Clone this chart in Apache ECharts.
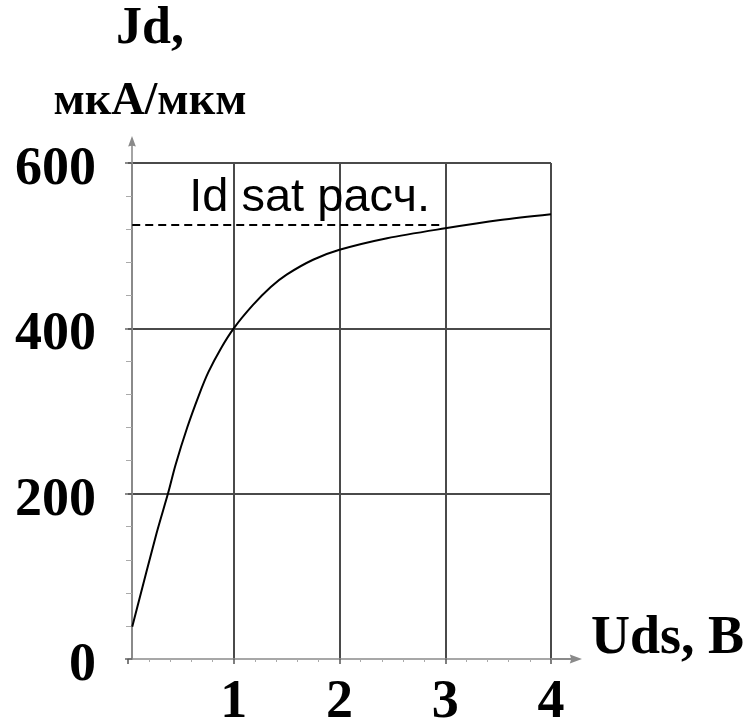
<!DOCTYPE html>
<html>
<head>
<meta charset="utf-8">
<script src="https://cdn.jsdelivr.net/npm/echarts@6/dist/echarts.min.js"></script>
<style>
  html, body { margin: 0; padding: 0; background: #fff; }
  #chart { width: 749px; height: 721px; }
</style>
</head>
<body>
<div id="chart"></div>
<script>
// Output characteristic: drain current density vs drain-source voltage
const uds = [0.04, 0.27, 0.38, 0.45, 0.56, 0.67, 0.76, 0.88, 1.0, 1.18, 1.35, 1.5, 1.75, 2.0, 2.45, 3.0, 3.52, 4.0];
const jd  = [39, 152, 201, 235, 280, 319, 347, 376, 400, 428, 450, 465, 483, 495, 509, 521, 531, 538];

// Calculated saturation level (dashed reference)
const jdSat = 525;
const satFrom = 0.04;
const satTo = 2.95;
const satLabel = 'Id sat расч.';

const xName = 'Uds, B';
const yNameTop = 'Jd,';
const yNameUnit = 'мкА/мкм';

const serif = '"Liberation Serif", "Times New Roman", serif';
const sans = '"Liberation Sans", Arial, sans-serif';

// Arrow with a short stem that continues the axis line past the grid
const arrowPath = 'path://M5,0 L9,11 L5.8,10 L5.8,28 L4.2,28 L4.2,10 L1,11 Z';

const chart = echarts.init(document.getElementById('chart'), null, { renderer: 'canvas' });

chart.setOption({
  animation: false,
  backgroundColor: '#ffffff',
  grid: {
    left: 128, right: 198, top: 163, bottom: 62,
    containLabel: false,
    outerBoundsMode: 'none'
  },
  xAxis: {
    type: 'value',
    min: 0,
    max: 4,
    interval: 1,
    name: xName,
    nameLocation: 'end',
    nameGap: 40,
    nameMoveOverlap: false,
    nameTextStyle: {
      fontFamily: serif, fontWeight: 'bold', fontSize: 54, color: '#000',
      align: 'left', verticalAlign: 'bottom', lineHeight: 40
    },
    axisLine: {
      show: true,
      lineStyle: { color: '#8a8a8a', width: 1.5 },
      symbol: ['none', arrowPath],
      symbolSize: [10, 31],
      symbolOffset: [0, 15.5]
    },
    axisTick: { show: true, length: 5, lineStyle: { color: '#555', width: 1.5 } },
    minorTick: { show: true, splitNumber: 5, length: 3, lineStyle: { color: '#aaa', width: 1 } },
    axisLabel: {
      fontFamily: serif, fontWeight: 'bold', fontSize: 54, color: '#000', margin: 17,
      formatter: v => (v === 0 ? '' : String(v))
    },
    splitLine: { show: true, showMinLine: false, lineStyle: { color: '#4a4a4a', width: 2 } }
  },
  yAxis: {
    type: 'value',
    min: 0,
    max: 600,
    interval: 200,
    offset: -4,
    name: '{a|' + yNameTop + '}\n{b|' + yNameUnit + '}',
    nameLocation: 'end',
    nameGap: 38,
    nameTextStyle: {
      align: 'center',
      padding: [0, 0, 0, 36],
      rich: {
        a: { fontFamily: serif, fontWeight: 'bold', fontSize: 52, lineHeight: 98, color: '#000' },
        b: { fontFamily: serif, fontWeight: 'bold', fontSize: 46, lineHeight: 46, color: '#000' }
      }
    },
    axisLine: {
      show: true,
      lineStyle: { color: '#8a8a8a', width: 2 },
      symbol: ['none', arrowPath],
      symbolSize: [10, 27],
      symbolOffset: [0, 13.5]
    },
    axisTick: { show: true, length: 7, lineStyle: { color: '#666', width: 1.5 } },
    minorTick: { show: true, splitNumber: 5, length: 6, lineStyle: { color: '#aaa', width: 1 } },
    axisLabel: {
      fontFamily: serif, fontWeight: 'bold', fontSize: 54, color: '#000', margin: 36,
      verticalAlign: 'top', lineHeight: 14
    },
    splitLine: { show: true, showMinLine: false, lineStyle: { color: '#4a4a4a', width: 2 } }
  },
  series: [
    {
      type: 'line',
      data: uds.map((u, i) => [u, jd[i]]),
      smooth: 0.3,
      showSymbol: false,
      lineStyle: { color: '#000', width: 2 },
      z: 5,
      markLine: {
        silent: true,
        symbol: ['none', 'none'],
        lineStyle: { color: '#000', type: [8, 5], width: 2 },
        label: {
          show: true,
          position: 'insideStartTop',
          distance: [57, 3],
          formatter: satLabel,
          fontFamily: sans,
          fontSize: 47,
          color: '#000'
        },
        data: [[{ coord: [satFrom, jdSat] }, { coord: [satTo, jdSat] }]]
      }
    }
  ]
});
</script>
</body>
</html>
